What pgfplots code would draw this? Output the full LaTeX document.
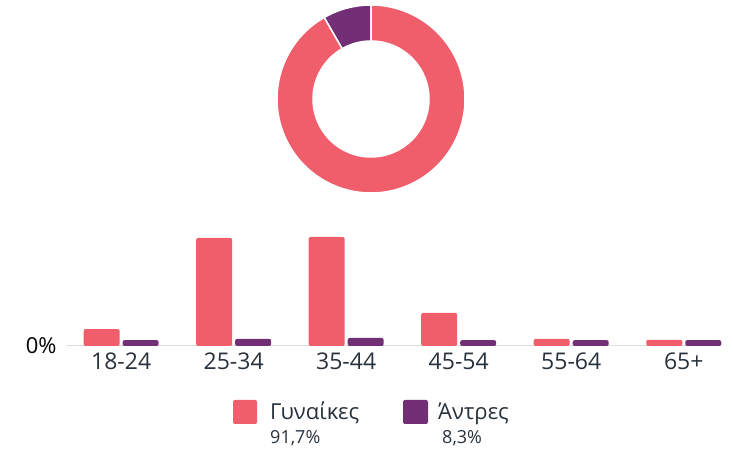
\documentclass[border=0pt]{standalone}
\usepackage{pgfplots}
\pgfplotsset{compat=1.18}
\usepackage{fontspec}
\setmainfont{Open Sans}
\definecolor{pinkc}{RGB}{240,94,108}
\definecolor{purpc}{RGB}{114,47,117}
\definecolor{txt}{RGB}{40,50,60}
\definecolor{axl}{RGB}{222,222,222}
\begin{document}
\begin{tikzpicture}[x=1pt,y=1pt]
\path[use as bounding box] (0,0) rectangle (733,449);
% donut (share of women / men)
\def\women{91.7}
\def\men{8.3}
\pgfmathsetmacro{\aa}{90}
\pgfmathsetmacro{\ab}{90+3.6*\men}
\pgfmathsetmacro{\ac}{90+3.6*(\men+\women)}
\begin{scope}[shift={(371,350)}]
\fill[purpc,draw=white,line width=1.5pt] (\aa:94) arc[start angle=\aa,end angle=\ab,radius=94] -- (\ab:58) arc[start angle=\ab,end angle=\aa,radius=58] -- cycle;
\fill[pinkc,draw=white,line width=1.5pt] (\ab:94) arc[start angle=\ab,end angle=\ac,radius=94] -- (\ac:58) arc[start angle=\ac,end angle=\ab,radius=58] -- cycle;
\end{scope}
% bar chart
\begin{axis}[
  at={(66pt,103pt)}, anchor=south west,
  scale only axis, width=656pt, height=130pt,
  xmin=-0.49, xmax=5.34, ymin=0, ymax=42.1,
  axis x line*=bottom, axis y line*=left,
  x axis line style={draw=axl,line width=1pt,-},
  y axis line style={draw=none},
  xtick={0,...,5},
  xticklabels={18-24,25-34,35-44,45-54,55-64,65+},
  ytick={0}, yticklabels={0\%},
  major tick length=0pt,
  xticklabel style={font=\fontsize{23}{26}\selectfont, text=txt, yshift=-3pt},
  yticklabel style={font=\fontsize{22}{26}\selectfont, text=black, xshift=-6pt},
  ybar, bar width=36pt,
  clip=false,
]
\addplot[fill=pinkc,draw=none,rounded corners=2pt,bar shift=-19.5pt] coordinates {(0,5.5) (1,35.0) (2,35.3) (3,10.7) (4,2.3) (5,2.0)};
\addplot[fill=purpc,draw=none,rounded corners=2pt,bar shift=19.5pt] coordinates {(0,1.9) (1,2.3) (2,2.6) (3,1.9) (4,1.9) (5,1.9)};
\end{axis}
% legend
\fill[pinkc,rounded corners=2pt] (233,25) rectangle (257,49);
\node[anchor=base west,inner sep=0pt,text=txt,font=\fontsize{22}{24}\selectfont] at (270,29) {Γυναίκες};
\node[anchor=base west,inner sep=0pt,text=txt,font=\fontsize{18}{20}\selectfont] at (270,5) {91,7\%};
\fill[purpc,rounded corners=2pt] (403,25) rectangle (428,49);
\node[anchor=base west,inner sep=0pt,text=txt,font=\fontsize{22}{24}\selectfont] at (438,29) {Άντρες};
\node[anchor=base west,inner sep=0pt,text=txt,font=\fontsize{18}{20}\selectfont] at (442,5) {8,3\%};
\end{tikzpicture}
\end{document}
